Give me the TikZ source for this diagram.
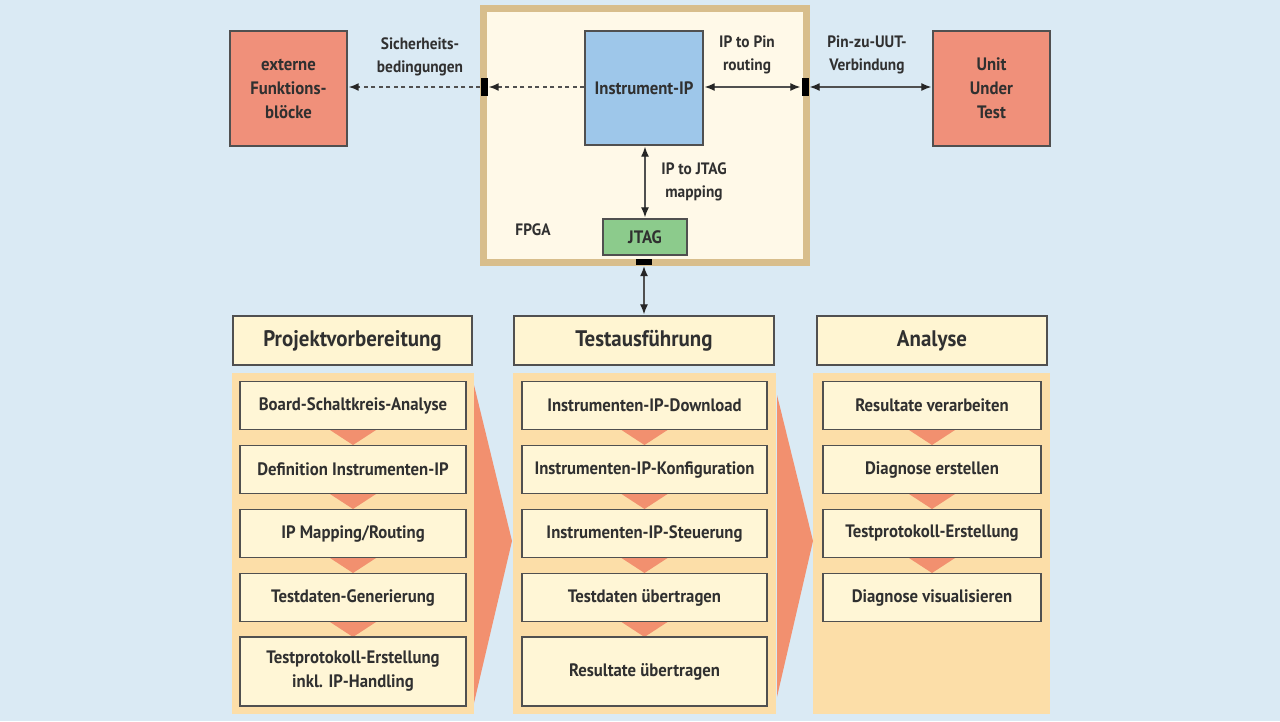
\documentclass[tikz,border=0pt]{standalone}
\usepackage{fontspec}
\setmainfont[FakeStretch=0.93]{PT Sans}
\usetikzlibrary{arrows.meta}
\definecolor{bg}{HTML}{DAEAF4}
\definecolor{salmon}{HTML}{F0907A}
\definecolor{chev}{HTML}{F2906F}
\definecolor{tan}{HTML}{D8BE8C}
\definecolor{cream}{HTML}{FFF9E8}
\definecolor{ipblue}{HTML}{9EC7EA}
\definecolor{jgreen}{HTML}{8CCB8C}
\definecolor{hdr}{HTML}{FFF5D2}
\definecolor{itm}{HTML}{FFF6D6}
\definecolor{panel}{HTML}{FCDEA8}
\definecolor{edge}{HTML}{505050}
\definecolor{txt}{HTML}{303030}
\begin{document}
\begin{tikzpicture}[x=1pt,y=-1pt,
  every node/.style={text=txt},
  box/.style={draw=edge,line width=1.4pt,inner sep=0pt,align=center,font=\bfseries\fontsize{18}{24}\selectfont},
  hdrbox/.style={box,fill=hdr,minimum height=49pt,font=\bfseries\fontsize{22.5}{26}\selectfont},
  itembox/.style={box,fill=itm,minimum height=48pt,font=\bfseries\fontsize{18}{24}\selectfont},
  pinblk/.style={fill=black,inner sep=0pt},
  lbl/.style={align=center,font=\bfseries\fontsize{16.5}{23}\selectfont},
  tip/.style={Latex[length=10pt,width=8pt,color=black!85]},
  conn/.style={draw=edge,line width=1.3pt,{Latex[length=10pt,width=8pt,color=black!85]}-{Latex[length=10pt,width=8pt,color=black!85]},shorten <=1pt,shorten >=1pt},
  dconn/.style={draw=edge,line width=1.5pt,dash pattern=on 4pt off 3.5pt,-{Latex[length=10pt,width=8pt,color=black!85]},shorten >=1pt},
  tri/.style={fill=chev,draw=none}
]
\useasboundingbox (0,0) rectangle (1280,721);
\fill[bg] (0,0) rectangle (1280,721);

% FPGA frame
\fill[tan] (480,5) rectangle (810,266);
\fill[cream] (487,12) rectangle (803,259);
\node[lbl] (fpga) at (533,230) {FPGA};

% top boxes
\node[box,fill=salmon,minimum width=117pt,minimum height=115pt] (ext) at (288.5,88.5) {externe\\Funktions-\\blöcke};
\node[box,fill=salmon,minimum width=117pt,minimum height=115pt] (uut) at (991.5,88.5) {Unit\\Under\\Test};
\node[box,fill=ipblue,minimum width=118pt,minimum height=114pt] (ip) at (644,88) {Instrument-IP};
\node[box,fill=jgreen,minimum width=84pt,minimum height=36pt] (jtag) at (645,237) {JTAG};

% pin blocks
\node[pinblk,minimum width=7pt,minimum height=18pt] (lblk) at (484,87) {};
\node[pinblk,minimum width=7pt,minimum height=18pt] (rblk) at (805,87) {};
\node[pinblk,minimum width=16pt,minimum height=6pt] (bblk) at (644,262) {};

% labels
\node[lbl] (l1) at (420,57) {Sicherheits-\\bedingungen};
\node[lbl] (l2) at (747,55) {IP to Pin\\routing};
\node[lbl] (l3) at (867,55) {Pin-zu-UUT-\\Verbindung};
\node[lbl] (l4) at (694,182) {IP to JTAG\\mapping};

% connectors
\draw[dconn] (ip.west |- lblk) -- (lblk.east);
\draw[dconn] (lblk.west) -- (ext.east |- lblk);
\draw[conn] (ip.east |- rblk) -- (rblk.west);
\draw[conn] (rblk.east) -- (uut.west |- rblk);
\draw[conn] (jtag.north |- ip.south) -- (jtag.north);

% panels
\fill[panel] (232,373) rectangle (474,714);
\fill[panel] (513,373) rectangle (776,714);
\fill[panel] (813,373) rectangle (1050,714);
% chevrons
\fill[tri] (474,385) -- (512,541) -- (474,703) -- cycle;
\fill[tri] (777,395) -- (813,541) -- (777,697) -- cycle;

% headers
\node[hdrbox,minimum width=239pt] (h1) at (352.5,340.5) {Projektvorbereitung};
\node[hdrbox,minimum width=260pt] (h2) at (644,340.5) {Testausführung};
\node[hdrbox,minimum width=230pt] (h3) at (932,340.5) {Analyse};

\draw[conn] (bblk.south) -- (bblk.south |- h2.north);

% small triangles between items
\foreach \cx in {353,644.5,932}{
  \foreach \yb in {430,494,558}{
    \fill[tri] (\cx-23,\yb) -- (\cx+23,\yb) -- (\cx,\yb+15) -- cycle;
  }
}
\foreach \cx in {353,644.5}{
  \fill[tri] (\cx-23,622) -- (\cx+23,622) -- (\cx,622+15) -- cycle;
}

% column 1
\node[itembox,minimum width=226pt] (a1) at (353,405.5) {Board-Schaltkreis-Analyse};
\node[itembox,minimum width=226pt] (a2) at (353,469.5) {Definition Instrumenten-IP};
\node[itembox,minimum width=226pt] (a3) at (353,533.5) {IP Mapping/Routing};
\node[itembox,minimum width=226pt] (a4) at (353,597.5) {Testdaten-Generierung};
\node[itembox,minimum width=226pt,minimum height=69pt] (a5) at (353,671.5) {Testprotokoll-Erstellung\\inkl. IP-Handling};
% column 2
\node[itembox,minimum width=245pt] (b1) at (644.5,405.5) {Instrumenten-IP-Download};
\node[itembox,minimum width=245pt] (b2) at (644.5,469.5) {Instrumenten-IP-Konfiguration};
\node[itembox,minimum width=245pt] (b3) at (644.5,533.5) {Instrumenten-IP-Steuerung};
\node[itembox,minimum width=245pt] (b4) at (644.5,597.5) {Testdaten übertragen};
\node[itembox,minimum width=245pt,minimum height=69pt] (b5) at (644.5,671.5) {Resultate übertragen};
% column 3
\node[itembox,minimum width=218pt] (c1) at (932,405.5) {Resultate verarbeiten};
\node[itembox,minimum width=218pt] (c2) at (932,469.5) {Diagnose erstellen};
\node[itembox,minimum width=218pt] (c3) at (932,533.5) {Testprotokoll-Erstellung};
\node[itembox,minimum width=218pt] (c4) at (932,597.5) {Diagnose visualisieren};
\end{tikzpicture}
\end{document}
